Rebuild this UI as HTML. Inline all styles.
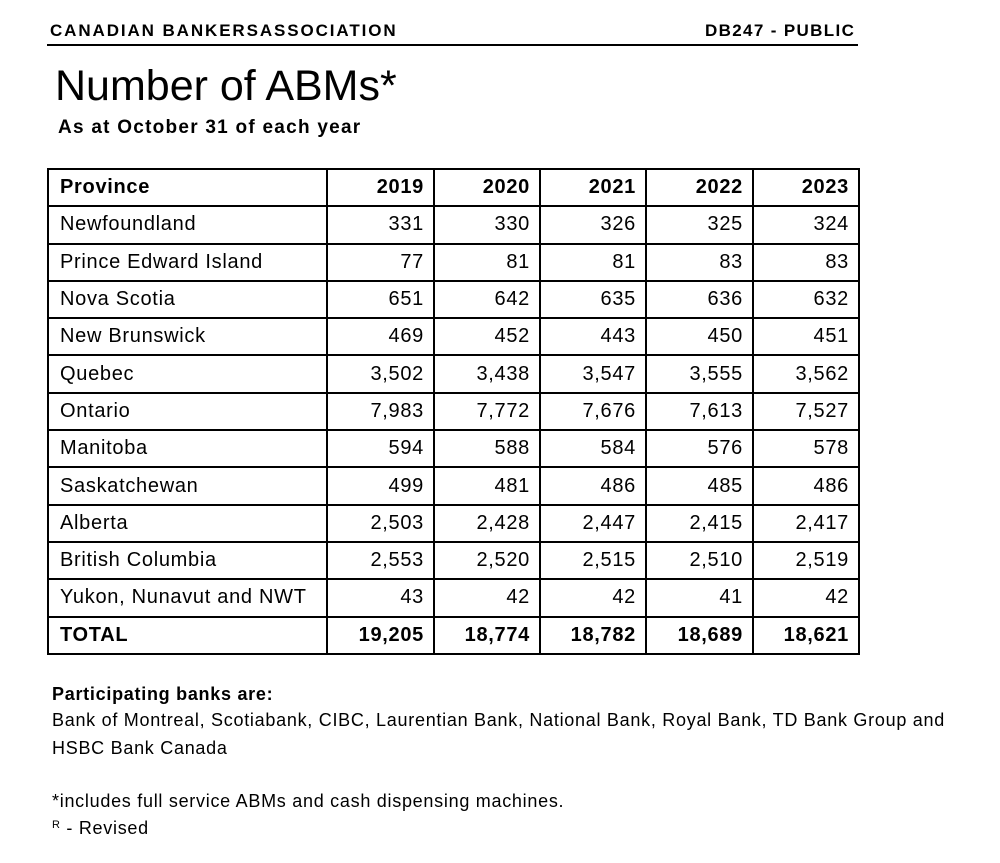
<!DOCTYPE html>
<html><head><meta charset="utf-8"><style>
body{margin:0;width:1000px;height:863px;background:#fff;font-family:"Liberation Sans",Arial,sans-serif;color:#000;position:relative;overflow:hidden}
.a{position:absolute;white-space:nowrap}
table{position:absolute;left:47px;top:168px;width:811px;height:487px;border-collapse:collapse;table-layout:fixed;font-size:20px;letter-spacing:0.7px}
td{border:2px solid #000;padding:0 9px;height:35px;text-align:right}
td:first-child{text-align:left;padding-left:11px}
tr.b td{font-weight:bold}
.f{font-size:18px;letter-spacing:0.72px}
</style></head><body>
<div class="a" style="left:50px;top:21px;font-size:17px;font-weight:bold;letter-spacing:1.9px">CANADIAN BANKERSASSOCIATION</div>
<div class="a" style="left:705px;top:21px;font-size:17px;font-weight:bold;letter-spacing:1.35px">DB247 - PUBLIC</div>
<div class="a" style="left:47px;top:44px;width:811px;height:2px;background:#000"></div>
<div class="a" style="left:55px;top:62px;font-size:43px">Number of ABMs*</div>
<div class="a" style="left:58px;top:117px;font-size:19px;font-weight:bold;letter-spacing:1.25px">As at October 31 of each year</div>
<table>
<colgroup><col style="width:279px"><col style="width:107px"><col style="width:106px"><col style="width:106px"><col style="width:107px"><col style="width:106px"></colgroup>
<tr class="b"><td>Province</td><td>2019</td><td>2020</td><td>2021</td><td>2022</td><td>2023</td></tr>
<tr><td>Newfoundland</td><td>331</td><td>330</td><td>326</td><td>325</td><td>324</td></tr>
<tr><td>Prince Edward Island</td><td>77</td><td>81</td><td>81</td><td>83</td><td>83</td></tr>
<tr><td>Nova Scotia</td><td>651</td><td>642</td><td>635</td><td>636</td><td>632</td></tr>
<tr><td>New Brunswick</td><td>469</td><td>452</td><td>443</td><td>450</td><td>451</td></tr>
<tr><td>Quebec</td><td>3,502</td><td>3,438</td><td>3,547</td><td>3,555</td><td>3,562</td></tr>
<tr><td>Ontario</td><td>7,983</td><td>7,772</td><td>7,676</td><td>7,613</td><td>7,527</td></tr>
<tr><td>Manitoba</td><td>594</td><td>588</td><td>584</td><td>576</td><td>578</td></tr>
<tr><td>Saskatchewan</td><td>499</td><td>481</td><td>486</td><td>485</td><td>486</td></tr>
<tr><td>Alberta</td><td>2,503</td><td>2,428</td><td>2,447</td><td>2,415</td><td>2,417</td></tr>
<tr><td>British Columbia</td><td>2,553</td><td>2,520</td><td>2,515</td><td>2,510</td><td>2,519</td></tr>
<tr><td>Yukon, Nunavut and NWT</td><td>43</td><td>42</td><td>42</td><td>41</td><td>42</td></tr>
<tr class="b"><td>TOTAL</td><td>19,205</td><td>18,774</td><td>18,782</td><td>18,689</td><td>18,621</td></tr>
</table>
<div class="a f" style="left:52px;top:684px;font-weight:bold">Participating banks are:</div>
<div class="a f" style="left:52px;top:710px">Bank of Montreal, Scotiabank, CIBC, Laurentian Bank, National Bank, Royal Bank, TD Bank Group and</div>
<div class="a f" style="left:52px;top:738px">HSBC Bank Canada</div>
<div class="a f" style="left:52px;top:791px">*includes full service ABMs and cash dispensing machines.</div>
<div class="a f" style="left:52px;top:818px"><span style="font-size:11px;vertical-align:6px">R</span> - Revised</div>
</body></html>
